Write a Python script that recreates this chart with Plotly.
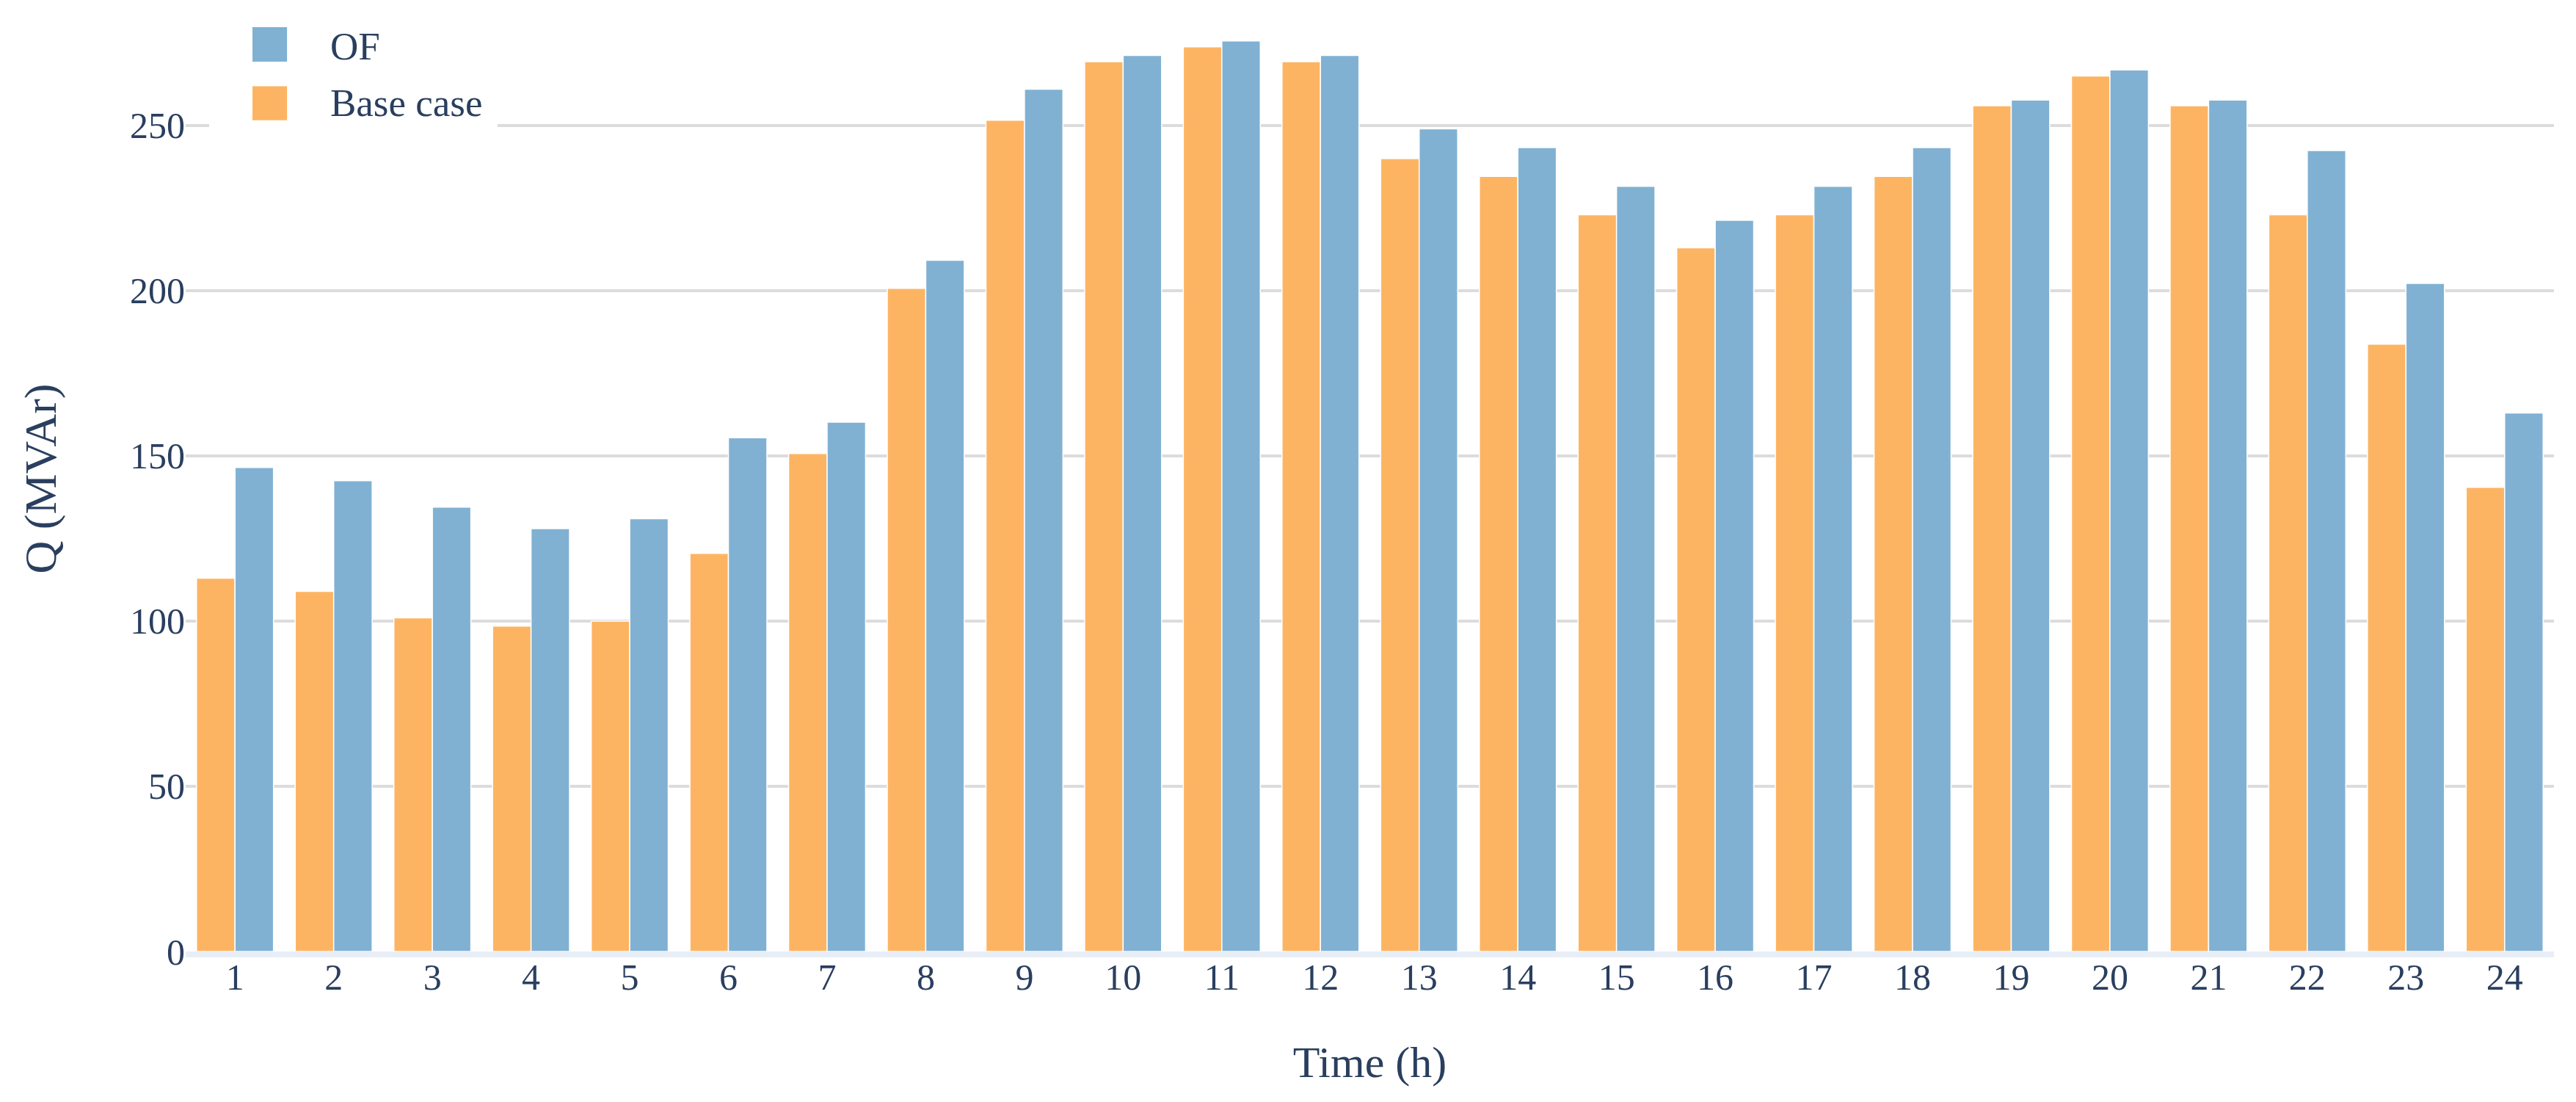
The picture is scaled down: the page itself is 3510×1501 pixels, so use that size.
"""
Hourly reactive power Q (MVAr): base case vs OF, grouped bars.
"""

import plotly.graph_objects as go

hours = [str(h) for h in range(1, 25)]

base_case = [113, 109, 101, 98.5, 100, 120.5, 150.7, 200.7, 251.6, 269.3, 273.8, 269.3,
             240, 234.6, 223, 213, 223, 234.6, 256, 265, 256, 223, 183.8, 140.5]
of_case = [146.5, 142.5, 134.5, 128, 131, 155.5, 160.2, 209.2, 261, 271.2, 275.6, 271.2,
           249, 243.3, 231.6, 221.3, 231.6, 243.3, 257.7, 266.8, 257.7, 242.4, 202.2, 163]

series_names = ["OF", "Base case"]
y_ticks = [0, 50, 100, 150, 200, 250]

ORANGE = "#FDB462"
BLUE = "#80B1D3"
TEXT = "#2a3f5f"
FONT = "Liberation Serif"

fig = go.Figure()
fig.add_trace(go.Bar(x=hours, y=base_case, name=series_names[1],
                     marker=dict(color=ORANGE, line=dict(color="white", width=1.5)),
                     showlegend=False))
fig.add_trace(go.Bar(x=hours, y=of_case, name=series_names[0],
                     marker=dict(color=BLUE, line=dict(color="white", width=1.5)),
                     showlegend=False))

# legend drawn by hand so the swatches match the large exported size
fig.add_shape(type="rect", xref="paper", yref="paper", x0=0.0099, x1=0.1317, y0=0.864, y1=1.0,
              fillcolor="white", line=dict(width=0), layer="above")
for (name, color, y0, y1, yt) in [(series_names[0], BLUE, 0.9410, 0.9775, 0.9573),
                                  (series_names[1], ORANGE, 0.8790, 0.9150, 0.8975)]:
    fig.add_shape(type="rect", xref="paper", yref="paper", x0=0.0282, x1=0.0428, y0=y0, y1=y1,
                  fillcolor=color, line=dict(width=0), layer="above")
    fig.add_annotation(text=name, xref="paper", yref="paper", x=0.0604, y=yt,
                       xanchor="left", yanchor="middle", showarrow=False,
                       font=dict(family=FONT, size=53, color=TEXT))

fig.update_layout(
    width=3510,
    height=1501,
    barmode="group",
    bargap=0.22,
    bargroupgap=0,
    plot_bgcolor="white",
    paper_bgcolor="white",
    font=dict(family=FONT, size=50, color=TEXT),
    margin=dict(l=245, r=38, t=0, b=213, autoexpand=False),
)
fig.update_xaxes(
    type="category",
    showgrid=False,
    showline=True,
    linecolor="#e8eef6",
    linewidth=8,
    ticks="",
    tickfont=dict(size=50),
    ticklabelstandoff=-16,
    title=dict(text="Time (h)", font=dict(size=60), standoff=70),
    automargin=False,
)
fig.update_yaxes(
    range=[0, 286.2],
    tickvals=y_ticks,
    showgrid=True,
    gridcolor="#dcdcdc",
    gridwidth=4,
    zeroline=False,
    ticks="",
    tickfont=dict(size=50),
    title=dict(text="Q (MVAr)", font=dict(size=62), standoff=80),
    automargin=False,
)

fig.write_html("out.html")
